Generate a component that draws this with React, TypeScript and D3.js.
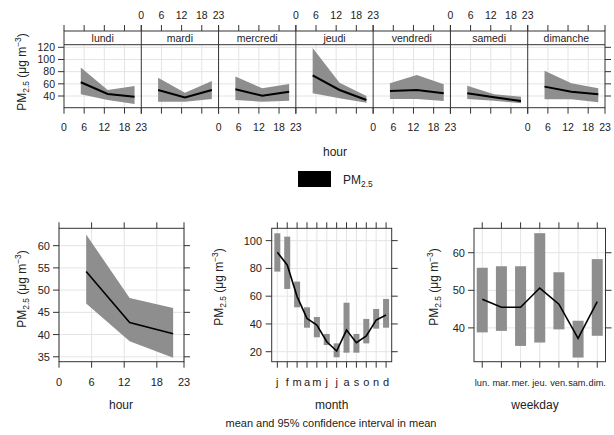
import React from "react";
import * as d3 from "d3";

const DAYS = ["lundi", "mardi", "mercredi", "jeudi", "vendredi", "samedi", "dimanche"];
const DAY_HOURS = [5, 13, 21];
const dayMean = [
  [62.6, 43.3, 38.9],
  [49.9, 37.8, 49.9],
  [51.0, 40.5, 47.1],
  [74.1, 49.9, 33.4],
  [48.3, 49.9, 44.4],
  [44.4, 37.8, 31.7],
  [55.4, 47.1, 42.8],
];
const dayLower = [
  [42.8, 33.4, 26.8],
  [30.6, 30.6, 35.0],
  [33.4, 30.6, 32.2],
  [44.4, 36.2, 28.9],
  [35.0, 35.0, 31.7],
  [35.0, 32.2, 28.0],
  [34.5, 34.5, 29.6],
];
const dayUpper = [
  [86.7, 49.9, 56.5],
  [70.2, 45.5, 64.8],
  [71.9, 52.7, 59.8],
  [118.7, 61.9, 40.0],
  [60.9, 74.7, 59.3],
  [57.0, 42.8, 38.9],
  [81.3, 60.9, 52.7],
];
const TOP_Y_TICKS = [40, 60, 80, 100, 120];
const HOUR_TICKS = [0, 6, 12, 18, 23];

const hourMean = [54.2, 42.7, 40.2];
const hourLower = [47.0, 38.5, 34.8];
const hourUpper = [62.5, 48.2, 46.0];
const HOUR_Y_TICKS = [35, 40, 45, 50, 55, 60];

const MONTHS = ["j", "f", "m", "a", "m", "j", "j", "a", "s", "o", "n", "d"];
const monthMean = [91.6, 82.5, 59.7, 44.0, 39.2, 27.2, 20.5, 35.6, 26.5, 31.3, 42.8, 46.4];
const monthLower = [77.7, 65.2, 52.0, 37.3, 30.4, 24.8, 16.0, 19.3, 19.3, 26.0, 36.6, 37.3];
const monthUpper = [105.3, 102.9, 70.5, 52.0, 45.0, 32.8, 26.0, 55.3, 32.8, 43.6, 50.8, 58.0];
const MONTH_Y_TICKS = [20, 40, 60, 80, 100];

const WEEKDAYS = ["lun.", "mar.", "mer.", "jeu.", "ven.", "sam.", "dim."];
const weekMean = [47.6, 45.5, 45.5, 50.6, 46.3, 37.2, 47.0];
const weekLower = [38.8, 39.2, 35.2, 36.1, 39.6, 32.1, 37.9];
const weekUpper = [56.0, 56.4, 56.4, 65.2, 54.8, 41.9, 58.3];
const WEEK_Y_TICKS = [40, 50, 60];

const FONT = "'Liberation Sans', Arial, sans-serif";
const BAND = "#8e8e8e";
const GRID = "#e4e4e4";
const AXIS = "#333";

function PMLabel({ x, y, size = 12, rotate = false }: { x: number; y: number; size?: number; rotate?: boolean }) {
  return (
    <text
      x={0}
      y={0}
      transform={`translate(${x},${y})${rotate ? " rotate(-90)" : ""}`}
      textAnchor="middle"
      fontSize={size}
      fontFamily={FONT}
      fill="#222"
    >
      PM
      <tspan fontSize={size * 0.7} dy={size * 0.25}>2.5</tspan>
      <tspan dy={-size * 0.25}> (μg m</tspan>
      <tspan fontSize={size * 0.7} dy={-size * 0.4}>−3</tspan>
      <tspan dy={size * 0.4}>)</tspan>
    </text>
  );
}

function TopPanel() {
  const left = 64;
  const right = 605;
  const stripTop = 31;
  const top = 44.7;
  const bottom = 107.7;
  const n = DAYS.length;
  const w = (right - left) / n;
  const y = d3.scaleLinear().domain([20.8, 124.3]).range([bottom, top]);
  const line = (xs: d3.ScaleLinear<number, number>) =>
    d3.line<number>().x((_, i) => xs(DAY_HOURS[i])).y((v) => y(v));
  const area = (xs: d3.ScaleLinear<number, number>, lo: number[]) =>
    d3
      .area<number>()
      .x((_, i) => xs(DAY_HOURS[i]))
      .y0((_, i) => y(lo[i]))
      .y1((v) => y(v));
  return (
    <g>
      {DAYS.map((d, k) => {
        const x0 = left + k * w;
        const xs = d3.scaleLinear().domain([0, 23]).range([x0, x0 + w]);
        return (
          <g key={d}>
            {TOP_Y_TICKS.map((t) => (
              <line key={t} x1={x0} x2={x0 + w} y1={y(t)} y2={y(t)} stroke={GRID} />
            ))}
            {[6, 12, 18].map((t) => (
              <line key={t} x1={xs(t)} x2={xs(t)} y1={top} y2={bottom} stroke={GRID} />
            ))}
            <path d={area(xs, dayLower[k])(dayUpper[k]) || ""} fill={BAND} />
            <path d={line(xs)(dayMean[k]) || ""} fill="none" stroke="#000" strokeWidth={2} />
            {HOUR_TICKS.map((t) => (
              <g key={t}>
                <line x1={xs(t)} x2={xs(t)} y1={stripTop - 6} y2={stripTop} stroke={AXIS} />
                <line x1={xs(t)} x2={xs(t)} y1={bottom} y2={bottom + 6} stroke={AXIS} />
                {k % 2 === 1 ? (
                  <text x={xs(t)} y={19} textAnchor="middle" fontSize={10.5} fontFamily={FONT} fill="#222">
                    {t}
                  </text>
                ) : (
                  <text x={xs(t)} y={131} textAnchor="middle" fontSize={10.5} fontFamily={FONT} fill="#222">
                    {t}
                  </text>
                )}
              </g>
            ))}
            <text x={x0 + w / 2} y={41.5} textAnchor="middle" fontSize={10.5} fontFamily={FONT} fill="#222">
              {d}
            </text>
            {k > 0 && <line x1={x0} x2={x0} y1={stripTop} y2={bottom} stroke={AXIS} />}
          </g>
        );
      })}
      <rect x={left} y={stripTop} width={right - left} height={bottom - stripTop} fill="none" stroke={AXIS} />
      <line x1={left} x2={right} y1={top} y2={top} stroke={AXIS} />
      {TOP_Y_TICKS.map((t) => (
        <g key={t}>
          <line x1={left - 6} x2={left} y1={y(t)} y2={y(t)} stroke={AXIS} />
          <line x1={right} x2={right + 6} y1={y(t)} y2={y(t)} stroke={AXIS} />
          <text x={55} y={y(t) + 3.8} textAnchor="end" fontSize={10.5} fontFamily={FONT} fill="#222">
            {t}
          </text>
        </g>
      ))}
      <PMLabel x={26} y={72} size={12} rotate />
      <text x={335} y={156} textAnchor="middle" fontSize={12} fontFamily={FONT} fill="#222">
        hour
      </text>
      <rect x={298} y={171} width={33} height={16} fill="#000" />
      <text x={343} y={184} fontSize={12} fontFamily={FONT} fill="#222">
        PM
        <tspan fontSize={8.4} dy={3}>2.5</tspan>
      </text>
    </g>
  );
}

function Frame({
  left,
  right,
  top,
  bottom,
  xTicks,
  yTicks,
}: {
  left: number;
  right: number;
  top: number;
  bottom: number;
  xTicks: number[];
  yTicks: number[];
}) {
  return (
    <g>
      <rect x={left} y={top} width={right - left} height={bottom - top} fill="none" stroke={AXIS} />
      {xTicks.map((x, i) => (
        <g key={"x" + i}>
          <line x1={x} x2={x} y1={top - 6} y2={top} stroke={AXIS} />
          <line x1={x} x2={x} y1={bottom} y2={bottom + 6} stroke={AXIS} />
        </g>
      ))}
      {yTicks.map((y, i) => (
        <g key={"y" + i}>
          <line x1={left - 6} x2={left} y1={y} y2={y} stroke={AXIS} />
          <line x1={right} x2={right + 6} y1={y} y2={y} stroke={AXIS} />
        </g>
      ))}
    </g>
  );
}

function HourPanel() {
  const left = 59, right = 184, top = 228.3, bottom = 361.7;
  const x = d3.scaleLinear().domain([0, 23]).range([left, right]);
  const y = d3.scaleLinear().domain([33.9, 63.9]).range([bottom, top]);
  const area = d3
    .area<number>()
    .x((_, i) => x(DAY_HOURS[i]))
    .y0((_, i) => y(hourLower[i]))
    .y1((v) => y(v));
  const line = d3.line<number>().x((_, i) => x(DAY_HOURS[i])).y((v) => y(v));
  return (
    <g>
      {HOUR_Y_TICKS.map((t) => (
        <line key={t} x1={left} x2={right} y1={y(t)} y2={y(t)} stroke={GRID} />
      ))}
      {HOUR_TICKS.map((t) => (
        <line key={t} x1={x(t)} x2={x(t)} y1={top} y2={bottom} stroke={GRID} />
      ))}
      <path d={area(hourUpper) || ""} fill={BAND} />
      <path d={line(hourMean) || ""} fill="none" stroke="#000" strokeWidth={1.6} />
      <Frame left={left} right={right} top={top} bottom={bottom} xTicks={HOUR_TICKS.map((t) => x(t))} yTicks={HOUR_Y_TICKS.map((t) => y(t))} />
      {HOUR_TICKS.map((t) => (
        <text key={t} x={x(t)} y={385.5} textAnchor="middle" fontSize={11} fontFamily={FONT} fill="#222">
          {t}
        </text>
      ))}
      {HOUR_Y_TICKS.map((t) => (
        <text key={t} x={50} y={y(t) + 4} textAnchor="end" fontSize={11} fontFamily={FONT} fill="#222">
          {t}
        </text>
      ))}
      <PMLabel x={26} y={289} size={12} rotate />
      <text x={121} y={409} textAnchor="middle" fontSize={12} fontFamily={FONT} fill="#222">
        hour
      </text>
    </g>
  );
}

function MonthPanel() {
  const left = 271.7, right = 391.7, top = 228.3, bottom = 361.7;
  const x = d3.scaleLinear().domain([0.43, 12.57]).range([left, right]);
  const y = d3.scaleLinear().domain([12.8, 108.9]).range([bottom, top]);
  const idx = MONTHS.map((_, i) => i + 1);
  const line = d3.line<number>().x((_, i) => x(i + 1)).y((v) => y(v));
  const bw = 6;
  return (
    <g>
      {MONTH_Y_TICKS.map((t) => (
        <line key={t} x1={left} x2={right} y1={y(t)} y2={y(t)} stroke={GRID} />
      ))}
      {idx.map((t) => (
        <line key={t} x1={x(t)} x2={x(t)} y1={top} y2={bottom} stroke={GRID} />
      ))}
      {idx.map((t, i) => (
        <rect key={t} x={x(t) - bw / 2} y={y(monthUpper[i])} width={bw} height={y(monthLower[i]) - y(monthUpper[i])} fill={BAND} />
      ))}
      <path d={line(monthMean) || ""} fill="none" stroke="#000" strokeWidth={1.6} />
      <Frame left={left} right={right} top={top} bottom={bottom} xTicks={idx.map((t) => x(t))} yTicks={MONTH_Y_TICKS.map((t) => y(t))} />
      {MONTHS.map((m, i) => (
        <text key={i} x={x(i + 1)} y={385.5} textAnchor="middle" fontSize={11} fontFamily={FONT} fill="#222">
          {m}
        </text>
      ))}
      {MONTH_Y_TICKS.map((t) => (
        <text key={t} x={262} y={y(t) + 4} textAnchor="end" fontSize={11} fontFamily={FONT} fill="#222">
          {t}
        </text>
      ))}
      <PMLabel x={223} y={287} size={12} rotate />
      <text x={331.7} y={409} textAnchor="middle" fontSize={12} fontFamily={FONT} fill="#222">
        month
      </text>
    </g>
  );
}

function WeekPanel() {
  const left = 474, right = 605.5, top = 228.3, bottom = 361.7;
  const x = d3.scaleLinear().domain([0.57, 7.43]).range([left, right]);
  const y = d3.scaleLinear().domain([31, 66.5]).range([bottom, top]);
  const idx = WEEKDAYS.map((_, i) => i + 1);
  const line = d3.line<number>().x((_, i) => x(i + 1)).y((v) => y(v));
  const bw = 11;
  return (
    <g>
      {WEEK_Y_TICKS.map((t) => (
        <line key={t} x1={left} x2={right} y1={y(t)} y2={y(t)} stroke={GRID} />
      ))}
      {idx.map((t) => (
        <line key={t} x1={x(t)} x2={x(t)} y1={top} y2={bottom} stroke={GRID} />
      ))}
      {idx.map((t, i) => (
        <rect key={t} x={x(t) - bw / 2} y={y(weekUpper[i])} width={bw} height={y(weekLower[i]) - y(weekUpper[i])} fill={BAND} />
      ))}
      <path d={line(weekMean) || ""} fill="none" stroke="#000" strokeWidth={1.6} />
      <Frame left={left} right={right} top={top} bottom={bottom} xTicks={idx.map((t) => x(t))} yTicks={WEEK_Y_TICKS.map((t) => y(t))} />
      {WEEKDAYS.map((m, i) => (
        <text key={i} x={x(i + 1)} y={386} textAnchor="middle" fontSize={9.2} fontFamily={FONT} fill="#222">
          {m}
        </text>
      ))}
      {WEEK_Y_TICKS.map((t) => (
        <text key={t} x={465} y={y(t) + 4} textAnchor="end" fontSize={11} fontFamily={FONT} fill="#222">
          {t}
        </text>
      ))}
      <PMLabel x={438} y={287} size={12} rotate />
      <text x={535} y={409} textAnchor="middle" fontSize={12} fontFamily={FONT} fill="#222">
        weekday
      </text>
    </g>
  );
}

export default function App() {
  return (
    <svg
      width={614}
      height={435}
      viewBox="0 0 614 435"
      style={{ position: "absolute", left: 0, top: 0, background: "#fff" }}
    >
      <rect width={614} height={435} fill="#fff" />
      <TopPanel />
      <HourPanel />
      <MonthPanel />
      <WeekPanel />
      <text x={331} y={427} textAnchor="middle" fontSize={11} fontFamily={FONT} fill="#222">
        mean and 95% confidence interval in mean
      </text>
    </svg>
  );
}
